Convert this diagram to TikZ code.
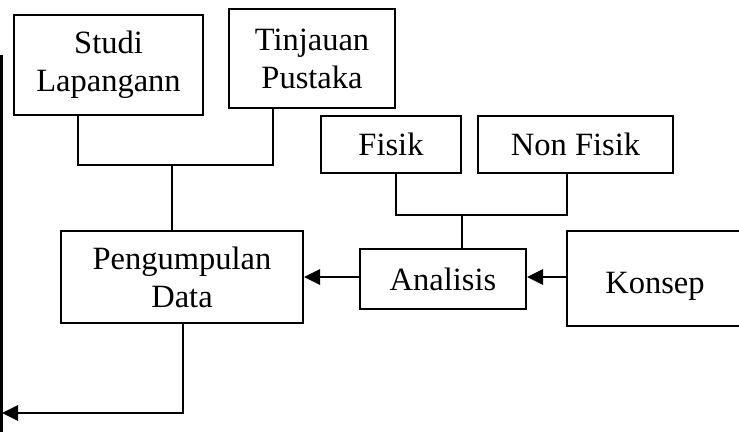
\documentclass[tikz,border=0pt]{standalone}
\usepackage{fontspec}
\setmainfont{Liberation Serif}
\usetikzlibrary{arrows.meta}
\begin{document}
\begin{tikzpicture}[x=1pt,y=-1pt,
  box/.style={draw,line width=2pt,inner sep=0pt,align=center,
    font=\fontsize{32.5}{38}\selectfont},
  label text/.style={inner sep=0pt,font=\fontsize{32.5}{38}\selectfont},
  link/.style={line width=2pt},
  flow/.style={line width=2.8pt,-{Triangle[length=16pt,width=15pt]}}]
\useasboundingbox (0,0) rectangle (739,432);
\begin{scope}
\clip (0,0) rectangle (739,432);
% boxes
\node[box,minimum width=189pt,minimum height=100pt] (studi) at (108.5,65) {Studi\\Lapangann};
\node[box,minimum width=166pt,minimum height=99pt] (tinjau) at (312,58.5) {Tinjauan\\Pustaka};
\node[box,minimum width=140pt,minimum height=57pt] (fisik) at (391,144) {Fisik};
\node[box,minimum width=195pt,minimum height=57pt] (nonfisik) at (575.5,144) {Non Fisik};
\node[box,minimum width=242pt,minimum height=92pt] (data) at (182,277) {Pengumpulan\\Data};
\node[box,minimum width=166pt,minimum height=60pt] (analisis) at (443,279) {Analisis};
\node[box,minimum width=176pt,minimum height=95pt] (konsep) at (655,278.5) {};
\node[label text,yshift=-8pt] (konseptext) at (konsep.center) {Konsep};
% joints
\coordinate (j1) at (172,165);
\coordinate (j2) at (462,215);
\coordinate (out) at (2,413);
% data sources into collection
\draw[link] (studi.south -| 78,0) |- (j1) -| (tinjau.south -| 273,0);
\draw[link] (j1) -- (j1 |- data.north);
% physical and non-physical into analysis
\draw[link] (fisik.south -| 396,0) |- (j2) -| (nonfisik.south -| 567,0);
\draw[link] (j2) -- (j2 |- analisis.north);
% main flow
\draw[flow] (konsep.west |- 0,277) -- (analisis.east |- 0,277);
\draw[flow] (analisis.west |- 0,277) -- (data.east |- 0,277);
\draw[flow] (data.south -| 183,0) |- (out);
% feedback line on the left
\draw[line width=3pt] (1.5,55) -- (1.5,432);
\end{scope}
\end{tikzpicture}
\end{document}
